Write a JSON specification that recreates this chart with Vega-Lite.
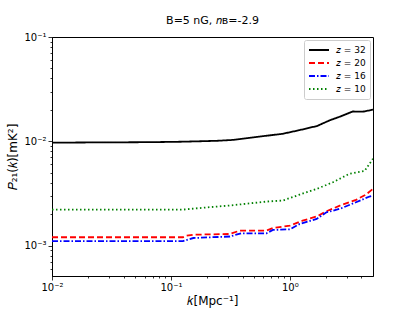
{
  "$schema": "https://vega.github.io/schema/vega-lite/v6.json",
  "width": 321,
  "height": 239,
  "autosize": {"type": "none"},
  "padding": {"left": 52, "top": 37, "right": 42, "bottom": 35},
  "background": "white",
  "config": {
    "font": "DejaVu Sans",
    "view": {"stroke": "black", "strokeWidth": 1},
    "axis": {"grid": false, "domainColor": "black", "tickColor": "black", "labelColor": "black", "titleColor": "black", "titleFontWeight": "normal"}
  },
  "title": {"text": "B=5 nG, 𝑛ʙ=-2.9", "fontSize": 11, "fontWeight": "normal", "offset": 6, "color": "black"},
  "data": {"values": [
    {"k": 0.01, "P": 0.0097, "z": "𝑧 = 32"},
    {"k": 0.0667, "P": 0.0098, "z": "𝑧 = 32"},
    {"k": 0.126, "P": 0.0099, "z": "𝑧 = 32"},
    {"k": 0.244, "P": 0.0101, "z": "𝑧 = 32"},
    {"k": 0.332, "P": 0.0103, "z": "𝑧 = 32"},
    {"k": 0.461, "P": 0.0108, "z": "𝑧 = 32"},
    {"k": 0.64, "P": 0.0113, "z": "𝑧 = 32"},
    {"k": 0.873, "P": 0.0118, "z": "𝑧 = 32"},
    {"k": 1.21, "P": 0.0128, "z": "𝑧 = 32"},
    {"k": 1.69, "P": 0.014, "z": "𝑧 = 32"},
    {"k": 2.17, "P": 0.0159, "z": "𝑧 = 32"},
    {"k": 2.63, "P": 0.0172, "z": "𝑧 = 32"},
    {"k": 3.38, "P": 0.0193, "z": "𝑧 = 32"},
    {"k": 4.1, "P": 0.0192, "z": "𝑧 = 32"},
    {"k": 5.0, "P": 0.0201, "z": "𝑧 = 32"},

    {"k": 0.01, "P": 0.0012, "z": "𝑧 = 20"},
    {"k": 0.126, "P": 0.0012, "z": "𝑧 = 20"},
    {"k": 0.135, "P": 0.00124, "z": "𝑧 = 20"},
    {"k": 0.154, "P": 0.00127, "z": "𝑧 = 20"},
    {"k": 0.313, "P": 0.00129, "z": "𝑧 = 20"},
    {"k": 0.38, "P": 0.00139, "z": "𝑧 = 20"},
    {"k": 0.636, "P": 0.00139, "z": "𝑧 = 20"},
    {"k": 0.72, "P": 0.00147, "z": "𝑧 = 20"},
    {"k": 1.0, "P": 0.00155, "z": "𝑧 = 20"},
    {"k": 1.28, "P": 0.00173, "z": "𝑧 = 20"},
    {"k": 1.68, "P": 0.0019, "z": "𝑧 = 20"},
    {"k": 2.03, "P": 0.00213, "z": "𝑧 = 20"},
    {"k": 2.63, "P": 0.00241, "z": "𝑧 = 20"},
    {"k": 3.6, "P": 0.00274, "z": "𝑧 = 20"},
    {"k": 4.37, "P": 0.00308, "z": "𝑧 = 20"},
    {"k": 5.0, "P": 0.0035, "z": "𝑧 = 20"},

    {"k": 0.01, "P": 0.0011, "z": "𝑧 = 16"},
    {"k": 0.126, "P": 0.0011, "z": "𝑧 = 16"},
    {"k": 0.154, "P": 0.00118, "z": "𝑧 = 16"},
    {"k": 0.313, "P": 0.00122, "z": "𝑧 = 16"},
    {"k": 0.39, "P": 0.00131, "z": "𝑧 = 16"},
    {"k": 0.636, "P": 0.00131, "z": "𝑧 = 16"},
    {"k": 0.72, "P": 0.00141, "z": "𝑧 = 16"},
    {"k": 1.0, "P": 0.00143, "z": "𝑧 = 16"},
    {"k": 1.21, "P": 0.00161, "z": "𝑧 = 16"},
    {"k": 1.68, "P": 0.0018, "z": "𝑧 = 16"},
    {"k": 2.03, "P": 0.00208, "z": "𝑧 = 16"},
    {"k": 2.63, "P": 0.00225, "z": "𝑧 = 16"},
    {"k": 3.6, "P": 0.0026, "z": "𝑧 = 16"},
    {"k": 4.67, "P": 0.00295, "z": "𝑧 = 16"},
    {"k": 5.0, "P": 0.003, "z": "𝑧 = 16"},

    {"k": 0.01, "P": 0.00221, "z": "𝑧 = 10"},
    {"k": 0.126, "P": 0.00221, "z": "𝑧 = 10"},
    {"k": 0.2, "P": 0.00232, "z": "𝑧 = 10"},
    {"k": 0.313, "P": 0.00242, "z": "𝑧 = 10"},
    {"k": 0.64, "P": 0.00264, "z": "𝑧 = 10"},
    {"k": 0.873, "P": 0.0027, "z": "𝑧 = 10"},
    {"k": 1.21, "P": 0.00308, "z": "𝑧 = 10"},
    {"k": 1.69, "P": 0.0035, "z": "𝑧 = 10"},
    {"k": 2.3, "P": 0.00404, "z": "𝑧 = 10"},
    {"k": 3.17, "P": 0.00488, "z": "𝑧 = 10"},
    {"k": 4.25, "P": 0.0052, "z": "𝑧 = 10"},
    {"k": 5.0, "P": 0.0068, "z": "𝑧 = 10"}
  ]},
  "mark": {"type": "line", "strokeWidth": 1.8, "clip": true},
  "encoding": {
    "x": {
      "field": "k", "type": "quantitative",
      "scale": {"type": "log", "domain": [0.01, 5], "nice": false},
      "axis": {
        "title": "𝑘[Mpc⁻¹]", "titleFontSize": 12, "titlePadding": 3,
        "values": [0.01,0.02,0.03,0.04,0.05,0.06,0.07,0.08,0.09,0.1,0.2,0.3,0.4,0.5,0.6,0.7,0.8,0.9,1,2,3,4],
        "labelExpr": "abs(datum.value-0.01)<1e-9 ? '10⁻²' : abs(datum.value-0.1)<1e-9 ? '10⁻¹' : abs(datum.value-1)<1e-9 ? '10⁰' : ''",
        "labelFontSize": 10, "labelPadding": 2, "labelFlush": false, "labelOverlap": false,
        "tickSize": {"condition": {"test": "abs(datum.value-0.01)<1e-9 || abs(datum.value-0.1)<1e-9 || abs(datum.value-1)<1e-9", "value": 4}, "value": 2},
        "tickWidth": 0.8, "domainWidth": 1
      }
    },
    "y": {
      "field": "P", "type": "quantitative",
      "scale": {"type": "log", "domain": [0.00051, 0.1], "nice": false},
      "axis": {
        "title": "𝑃₂₁(𝑘)[mK²]", "titleFontSize": 12, "titlePadding": 4,
        "values": [0.0006,0.0007,0.0008,0.0009,0.001,0.002,0.003,0.004,0.005,0.006,0.007,0.008,0.009,0.01,0.02,0.03,0.04,0.05,0.06,0.07,0.08,0.09,0.1],
        "labelExpr": "abs(datum.value-0.001)<1e-12 ? '10⁻³' : abs(datum.value-0.01)<1e-11 ? '10⁻²' : abs(datum.value-0.1)<1e-10 ? '10⁻¹' : ''",
        "labelFontSize": 10, "labelPadding": 2, "labelFlush": false, "labelOverlap": false,
        "tickSize": {"condition": {"test": "abs(datum.value-0.001)<1e-12 || abs(datum.value-0.01)<1e-11 || abs(datum.value-0.1)<1e-10", "value": 4}, "value": 2},
        "tickWidth": 0.8, "domainWidth": 1
      }
    },
    "color": {
      "field": "z", "type": "nominal",
      "sort": ["𝑧 = 32", "𝑧 = 20", "𝑧 = 16", "𝑧 = 10"],
      "scale": {"domain": ["𝑧 = 32", "𝑧 = 20", "𝑧 = 16", "𝑧 = 10"], "range": ["black", "red", "blue", "green"]},
      "legend": {
        "title": null, "orient": "top-right", "offset": 3,
        "fillColor": "white", "strokeColor": "#cccccc", "cornerRadius": 2, "padding": 4,
        "symbolType": "stroke", "symbolSize": 400, "symbolStrokeWidth": 1.8, "clipHeight": 12,
        "labelFontSize": 9, "labelColor": "black", "rowPadding": 1, "labelOffset": 6
      }
    },
    "strokeDash": {
      "field": "z", "type": "nominal",
      "scale": {"domain": ["𝑧 = 32", "𝑧 = 20", "𝑧 = 16", "𝑧 = 10"], "range": [[1, 0], [6, 3], [6, 2, 1.5, 2], [1.5, 2.5]]},
      "legend": null
    }
  }
}
